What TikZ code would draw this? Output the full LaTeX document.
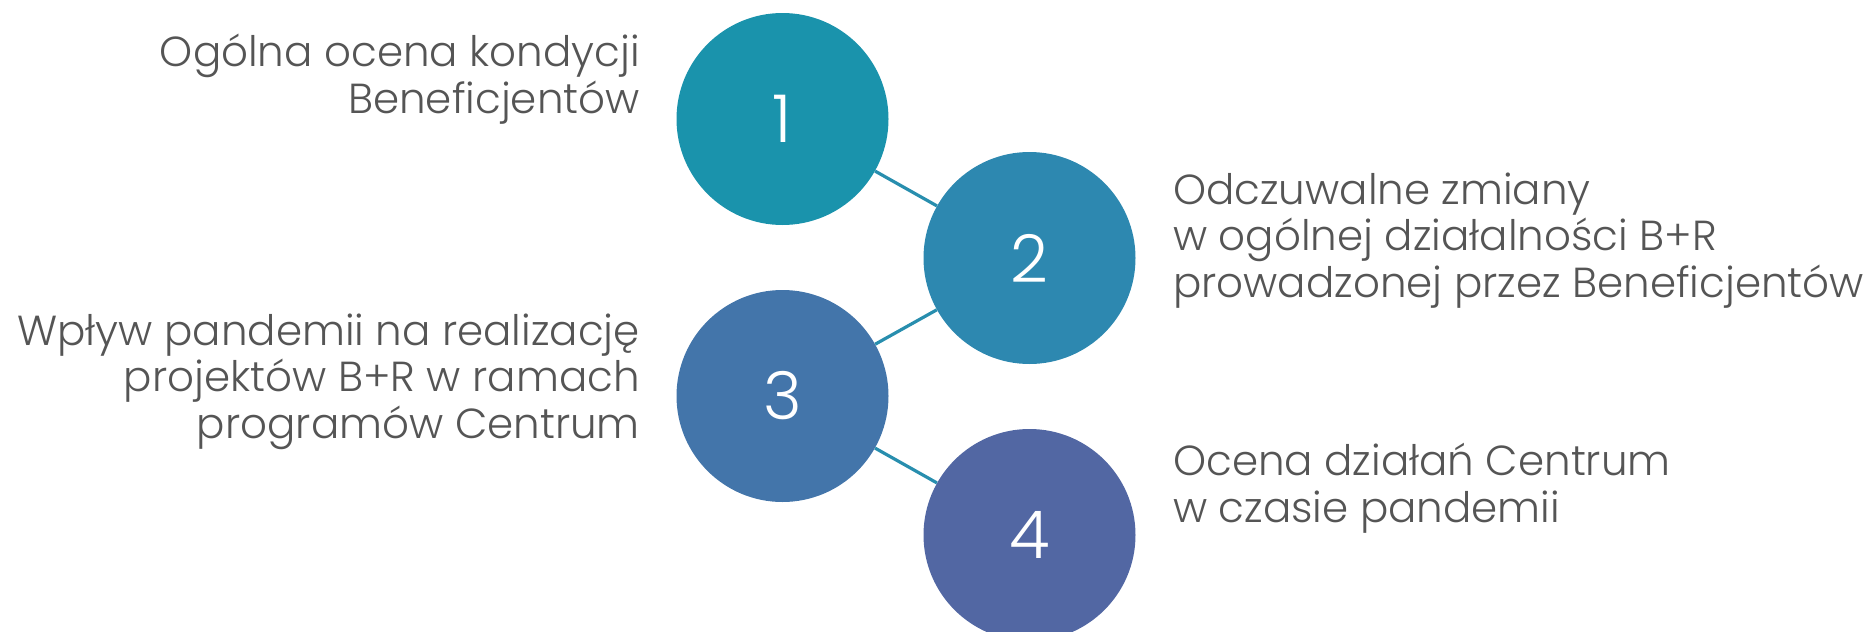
\documentclass[tikz,border=0pt]{standalone}
\usepackage{fontspec}
\setmainfont{Poppins}[UprightFont=* Light]
\definecolor{cA}{RGB}{26,147,172}
\definecolor{cB}{RGB}{45,136,176}
\definecolor{cC}{RGB}{67,117,170}
\definecolor{cD}{RGB}{82,103,163}
\definecolor{lineC}{RGB}{40,142,174}
\definecolor{txt}{RGB}{85,85,85}
\begin{document}
\begin{tikzpicture}[x=1pt,y=-1pt,
  num/.style={circle,minimum size=212pt,inner sep=0pt,text=white,font=\fontsize{66}{66}\selectfont},
  conn/.style={draw=lineC,line width=3.2pt},
  lbl/.style={text=txt,inner sep=0pt,font=\fontsize{42}{46.5}\selectfont}]
\useasboundingbox (0,0) rectangle (1872,632);
\node[num,fill=cA] (n1) at (782.5,119) {1};
\node[num,fill=cB] (n2) at (1029.5,258) {2};
\node[num,fill=cC] (n3) at (782.5,396) {3};
\node[num,fill=cD] (n4) at (1029.5,535) {4};
\draw[conn] (n1) -- (n2);
\draw[conn] (n2) -- (n3);
\draw[conn] (n3) -- (n4);
\node[lbl,align=right,anchor=base east] (t1) at (640,113) {Ogólna ocena kondycji\\Beneficjentów};
\node[lbl,align=left,anchor=base west] (t2) at (1173,297) {Odczuwalne zmiany\\w ogólnej działalności B+R\\prowadzonej przez Beneficjentów};
\node[lbl,align=right,anchor=base east] (t3) at (640,438) {Wpływ pandemii na realizację\\projektów B+R w ramach\\programów Centrum};
\node[lbl,align=left,anchor=base west] (t4) at (1173,522) {Ocena działań Centrum\\w czasie pandemii};
\end{tikzpicture}
\end{document}
